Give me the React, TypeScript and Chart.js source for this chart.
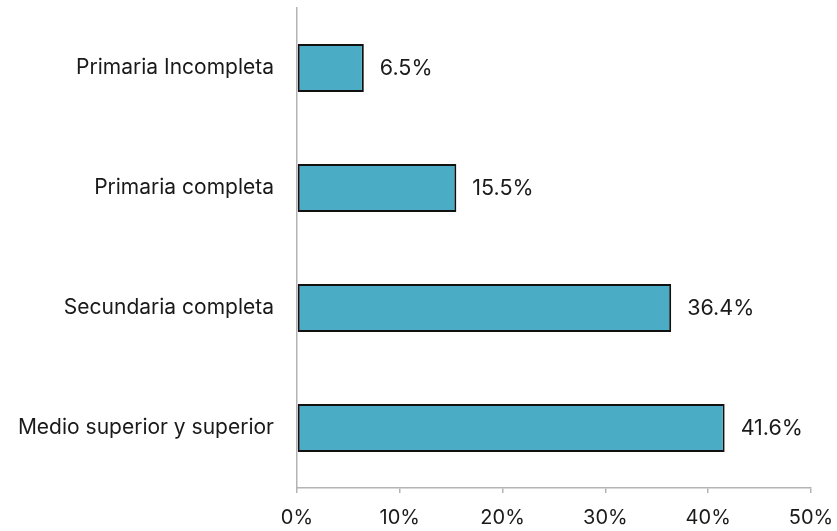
import React, { useEffect, useRef } from "react";
import { Chart, registerables } from "chart.js";

Chart.register(...registerables);

const categories = [
  "Primaria Incompleta",
  "Primaria completa",
  "Secundaria completa",
  "Medio superior y superior",
];
const values = [6.5, 15.5, 36.4, 41.6];
const xTicks = [0, 10, 20, 30, 40, 50];

const FONT = "Inter, 'Open Sans', sans-serif";

const valueLabels = {
  id: "valueLabels",
  afterDatasetsDraw(chart: any) {
    const ctx = chart.ctx;
    const meta = chart.getDatasetMeta(0);
    ctx.save();
    ctx.font = `21.5px ${FONT}`;
    ctx.fillStyle = "#1a1a1a";
    ctx.textAlign = "left";
    ctx.textBaseline = "middle";
    meta.data.forEach((bar: any, i: number) => {
      ctx.fillText(values[i].toFixed(1) + "%", bar.x + 16, bar.y + 1);
    });
    ctx.restore();
  },
};

export default function App() {
  const ref = useRef<HTMLCanvasElement>(null);
  useEffect(() => {
    if (!ref.current) return;
    const chart = new Chart(ref.current, {
      type: "bar",
      data: {
        labels: categories,
        datasets: [
          {
            data: values,
            backgroundColor: "#4BACC6",
            borderColor: "#111111",
            borderWidth: 2,
            borderSkipped: false,
            barPercentage: 0.4,
            categoryPercentage: 1,
          },
        ],
      },
      options: {
        indexAxis: "y",
        animation: false,
        responsive: false,
        maintainAspectRatio: false,
        layout: { padding: { top: 8, right: 26, left: 0, bottom: 0 } },
        plugins: { legend: { display: false }, tooltip: { enabled: false } },
        scales: {
          x: {
            min: 0,
            max: 50,
            afterBuildTicks: (axis: any) => {
              axis.ticks = xTicks.map((v) => ({ value: v }));
            },
            afterFit: (axis: any) => {
              axis.height = 531 - 488;
              axis.paddingLeft = 0;
              axis.paddingRight = 0;
            },
            grid: {
              drawOnChartArea: false,
              drawTicks: true,
              tickLength: 5,
              color: "#B4B4B4",
              lineWidth: 1.5,
            },
            border: { display: true, color: "#B4B4B4", width: 1.5 },
            ticks: {
              padding: 13,
              color: "#1a1a1a",
              font: { family: FONT, size: 20 },
              callback: (v: any) => v + "%",
            },
          },
          y: {
            afterFit: (axis: any) => {
              axis.width = 297;
              axis.paddingTop = 0;
              axis.paddingBottom = 0;
            },
            grid: { display: false, drawTicks: false },
            border: { display: true, color: "#B4B4B4", width: 1.5 },
            ticks: {
              padding: 23,
              color: "#1a1a1a",
              font: { family: FONT, size: 21 },
            },
          },
        },
      },
      plugins: [valueLabels],
    });
    return () => chart.destroy();
  }, []);
  return (
    <div style={{ position: "fixed", left: 0, top: 0, width: 837, height: 531, background: "#fff" }}>
      <canvas ref={ref} width={837} height={531} />
    </div>
  );
}
